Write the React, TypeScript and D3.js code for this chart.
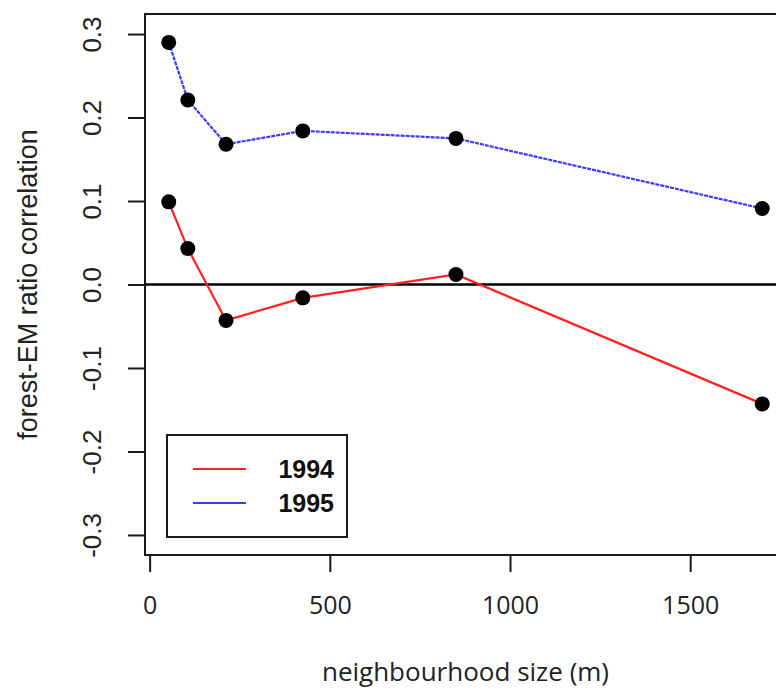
import React, { useEffect, useRef } from "react";
import * as d3 from "d3";

// neighbourhood sizes (m) and correlations
const sizes = [53, 106, 212, 425, 850, 1700];
const corr1994 = [0.099, 0.043, -0.043, -0.016, 0.012, -0.143];
const corr1995 = [0.29, 0.221, 0.168, 0.184, 0.175, 0.091];
const xTicks = [0, 500, 1000, 1500];
const yTicks = [-0.3, -0.2, -0.1, 0.0, 0.1, 0.2, 0.3];
const seriesNames = ["1994", "1995"];
const seriesColors = ["#ff2020", "#3b3bff"];

const width = 776;
const height = 691;

function App() {
  const ref = useRef<SVGSVGElement>(null);

  useEffect(() => {
    const svg = d3.select(ref.current);
    svg.selectAll("*").remove();

    const left = 145, top = 14, bottom = 555;
    // R style 4% padding around the data range
    const xMin = d3.min(sizes)!, xMax = d3.max(sizes)!;
    const pad = (xMax - xMin) * 0.04;
    const xScale = d3.scaleLinear().domain([xMin - pad, xMax + pad]).range([left, 786]);
    const yScale = d3.scaleLinear().domain([-0.324, 0.324]).range([bottom, top]);

    const sans = "'Liberation Sans', Arial, sans-serif";

    // plot box (right side runs off the picture)
    svg
      .append("rect")
      .attr("x", left)
      .attr("y", top)
      .attr("width", xScale.range()[1] - left)
      .attr("height", bottom - top)
      .attr("fill", "none")
      .attr("stroke", "#1a1a1a")
      .attr("stroke-width", 2);

    // x axis
    const xAxis = svg
      .append("g")
      .attr("transform", `translate(0, ${bottom})`)
      .call(
        d3.axisBottom(xScale).tickValues(xTicks).tickFormat(d3.format("d"))
          .tickSize(17).tickSizeOuter(0).tickPadding(24)
      );
    xAxis.select(".domain").remove();
    xAxis.selectAll("line").attr("stroke", "#1a1a1a").attr("stroke-width", 2);
    xAxis
      .selectAll("text")
      .attr("font-family", "'Open Sans', sans-serif")
      .attr("font-size", 25)
      .attr("fill", "#222");

    // y axis
    const yAxis = svg
      .append("g")
      .attr("transform", `translate(${left}, 0)`)
      .call(
        d3.axisLeft(yScale).tickValues(yTicks)
          .tickFormat((d) => d3.format(".1f")(d as number).replace("−", "-"))
          .tickSize(17).tickSizeOuter(0)
      );
    yAxis.select(".domain").remove();
    yAxis.selectAll("line").attr("stroke", "#1a1a1a").attr("stroke-width", 2);
    yAxis
      .selectAll("text")
      .attr("font-family", sans)
      .attr("font-size", 26)
      .attr("fill", "#222")
      .attr("text-anchor", "middle")
      .attr("dy", null)
      .attr("x", null)
      .attr("transform", "translate(-53, 0) rotate(-90)")
      .attr("dominant-baseline", "central");

    // zero line
    svg
      .append("line")
      .attr("x1", left)
      .attr("x2", xScale.range()[1])
      .attr("y1", yScale(0))
      .attr("y2", yScale(0))
      .attr("stroke", "#000")
      .attr("stroke-width", 2.5);

    const line = d3
      .line<[number, number]>()
      .x((d) => xScale(d[0]))
      .y((d) => yScale(d[1]));

    [corr1994, corr1995].forEach((vals, i) => {
      const pts = sizes.map((s, j) => [s, vals[j]] as [number, number]);
      svg
        .append("path")
        .datum(pts)
        .attr("fill", "none")
        .attr("stroke", seriesColors[i])
        .attr("stroke-width", 2.2)
        .attr("stroke-dasharray", i === 1 ? "4 1" : null)
        .attr("d", line);
      svg
        .append("g")
        .selectAll("circle")
        .data(pts)
        .join("circle")
        .attr("cx", (d) => xScale(d[0]))
        .attr("cy", (d) => yScale(d[1]))
        .attr("r", 7.5)
        .attr("fill", "#000");
    });

    // axis titles
    svg
      .append("text")
      .attr("x", (left + xScale.range()[1]) / 2)
      .attr("y", 681)
      .attr("text-anchor", "middle")
      .attr("font-family", "'Open Sans', sans-serif")
      .attr("font-size", 26)
      .attr("fill", "#222")
      .text("neighbourhood size (m)");

    svg
      .append("text")
      .attr("transform", `translate(37, ${(top + bottom) / 2}) rotate(-90)`)
      .attr("text-anchor", "middle")
      .attr("font-family", sans)
      .attr("font-size", 27)
      .attr("fill", "#222")
      .text("forest-EM ratio correlation");

    // legend
    const legend = svg.append("g");
    legend
      .append("rect")
      .attr("x", 167)
      .attr("y", 435)
      .attr("width", 180)
      .attr("height", 102)
      .attr("fill", "#fff")
      .attr("stroke", "#1a1a1a")
      .attr("stroke-width", 2);
    seriesNames.forEach((name, i) => {
      const yy = 469 + i * 34;
      legend
        .append("line")
        .attr("x1", 193)
        .attr("x2", 246)
        .attr("y1", yy)
        .attr("y2", yy)
        .attr("stroke", seriesColors[i])
        .attr("stroke-width", 2);
      legend
        .append("text")
        .attr("x", 334)
        .attr("y", yy + 9)
        .attr("text-anchor", "end")
        .attr("font-family", sans)
        .attr("font-weight", "bold")
        .attr("font-size", 25)
        .attr("fill", "#111")
        .text(name);
    });
  }, []);

  return (
    <svg
      ref={ref}
      width={width}
      height={height}
      style={{ position: "absolute", left: 0, top: 0, background: "#fff" }}
    ></svg>
  );
}

export default App;
